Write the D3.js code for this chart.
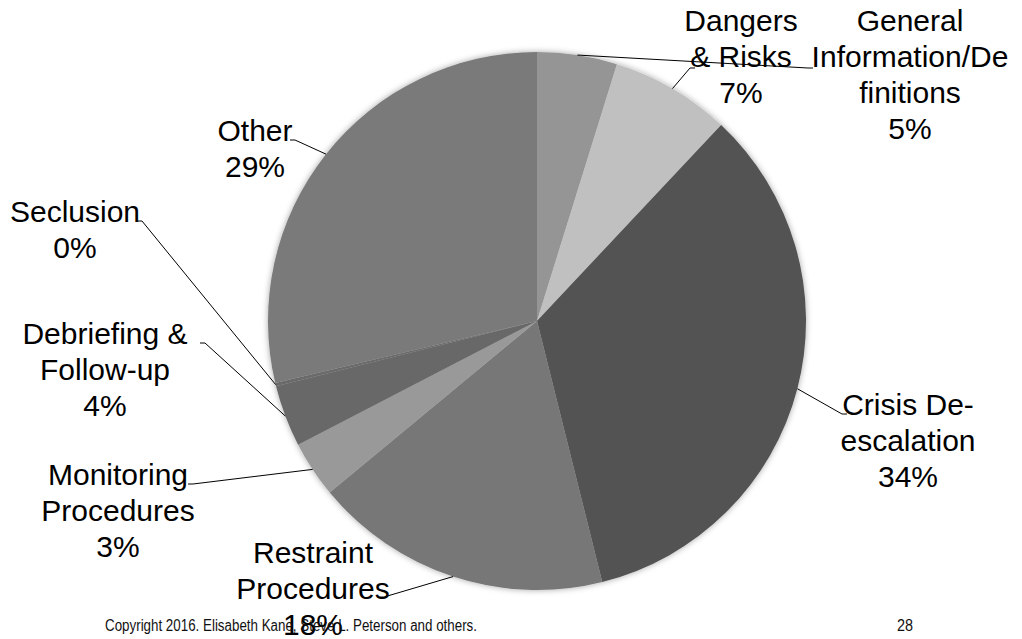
<!DOCTYPE html>
<html><head><meta charset="utf-8">
<script src="https://cdn.jsdelivr.net/npm/d3@7"></script>
<style>
html,body{margin:0;padding:0;background:#fff;}
svg{display:block;}
</style></head>
<body>
<svg id="chart" width="1022" height="639"></svg>
<script>
// Data (clockwise from 12 o'clock)
const categories = ["General Information/Definitions","Dangers & Risks","Crisis De-escalation","Restraint Procedures","Monitoring Procedures","Debriefing & Follow-up","Seclusion","Other"];
const values = [4.8, 7.2, 34.1, 17.9, 3.4, 3.7, 0.2, 28.7];
const labelLines = [
  ["General","Information/De","finitions"],
  ["Dangers","& Risks"],
  ["Crisis De-","escalation"],
  ["Restraint","Procedures"],
  ["Monitoring","Procedures"],
  ["Debriefing &","Follow-up"],
  ["Seclusion"],
  ["Other"]
];
const colors = ["#959595","#c0c0c0","#535353","#777777","#999999","#686868","#6a6a6a","#7a7a7a"];

// Layout (label anchor = text center x, first baseline y; elbow = leader end)
const layout = [
  {x:910, y:31, ex:808, ey:68, side:"right"},
  {x:741, y:31, ex:690, ey:68, side:"right"},
  {x:908, y:415, ex:842, ey:414, side:"right"},
  {x:313, y:563, ex:384, ey:597, side:"left"},
  {x:118, y:485, ex:193, ey:484, side:"left"},
  {x:105, y:344, ex:205, ey:343, side:"left"},
  {x:75, y:222, ex:142, ey:221, side:"left"},
  {x:255, y:141, ex:295, ey:140, side:"left"}
];

const svg = d3.select("#chart");
const cx = 537, cy = 321, R = 269;

const defs = svg.append("defs");
const f = defs.append("filter").attr("id","sh").attr("x","-10%").attr("y","-10%").attr("width","120%").attr("height","120%");
f.append("feDropShadow").attr("dx",0).attr("dy",0).attr("stdDeviation",3).attr("flood-color","#000").attr("flood-opacity",0.35);

const pie = d3.pie().sort(null).value(d => d)(values);
const arc = d3.arc().innerRadius(0).outerRadius(R);

const g = svg.append("g").attr("transform",`translate(${cx},${cy})`);
g.append("g").attr("filter","url(#sh)")
  .selectAll("path").data(pie).join("path")
  .attr("d", arc)
  .attr("fill", (d,i) => colors[i]);

// leader lines
const pct = d3.format(".0f");
pie.forEach((d,i) => {
  const a = (d.startAngle + d.endAngle)/2;
  const sx = cx + R*Math.sin(a), sy = cy - R*Math.cos(a);
  const L = layout[i];
  const hx = L.side === "right" ? L.ex + 5 : L.ex - 5;
  svg.append("polyline")
    .attr("points", `${sx},${sy} ${L.ex},${L.ey} ${hx},${L.ey}`)
    .attr("fill","none").attr("stroke","#000").attr("stroke-width",1);
});

// labels
pie.forEach((d,i) => {
  const L = layout[i];
  const lines = labelLines[i].concat([pct(values[i]) + "%"]);
  const t = svg.append("text")
    .attr("text-anchor","middle")
    .attr("font-family","'Liberation Sans', Arial, sans-serif")
    .attr("font-size",30)
    .attr("fill","#000");
  lines.forEach((s,k) => {
    t.append("tspan").attr("x",L.x).attr("y",L.y + k*36).text(s);
  });
});

// footer
svg.append("text").attr("x",105).attr("y",631)
  .attr("font-family","'Liberation Sans', Arial, sans-serif")
  .attr("font-size",16).attr("fill","#111")
  .attr("textLength",372).attr("lengthAdjust","spacingAndGlyphs")
  .text("Copyright 2016. Elisabeth Kane, Steve L. Peterson and others.");
svg.append("text").attr("x",905).attr("y",631).attr("text-anchor","middle")
  .attr("font-family","'Liberation Sans', Arial, sans-serif")
  .attr("font-size",16).attr("fill","#111")
  .attr("textLength",16).attr("lengthAdjust","spacingAndGlyphs")
  .text("28");
</script>
</body></html>
